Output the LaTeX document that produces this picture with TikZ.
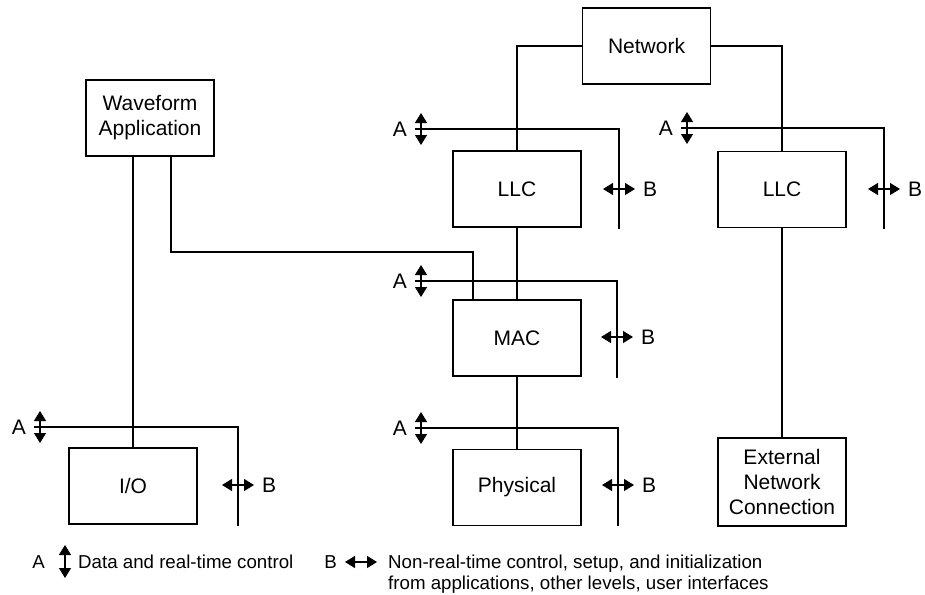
\documentclass[tikz,border=0pt]{standalone}
\usepackage{fontspec}
\setmainfont{Liberation Sans}
\usetikzlibrary{arrows.meta}

% A control port: the "A" double arrow on a bracket line that runs over the
% block and down its right side, and the "B" double arrow across that side.
% #1 name, #2 x of the A arrow, #3 y of the bracket, #4 x of the right side,
% #5 y where the side ends, #6 y of the B arrow
\newcommand\portset[6]{%
  \coordinate (#1-a) at (#2,#3);
  \coordinate (#1-c) at (#4,#3);
  \coordinate (#1-e) at (#4,#5);
  \coordinate (#1-b) at (#4,#6);
  \draw[wire] ([xshift=-6pt]#1-a) -- (#1-c) -- (#1-e);
  \draw[dbl] ([yshift=16pt]#1-a) -- ([yshift=-16pt]#1-a);
  \node[tag, anchor=east] (#1-A) at ([xshift=-14pt]#1-a) {A};
  \draw[dbl] ([xshift=-16pt]#1-b) -- ([xshift=16pt]#1-b);
  \node[tag, anchor=west] (#1-B) at ([xshift=24pt]#1-b) {B};
}

\begin{document}
\begin{tikzpicture}[x=1pt, y=-1pt,
  block/.style={draw, line width=1.2pt, minimum width=128pt, minimum height=76pt,
    inner sep=0pt, align=center, font=\fontsize{21}{25}\selectfont},
  wire/.style={line width=1.2pt},
  tag/.style={inner sep=0pt, font=\fontsize{21}{25}\selectfont},
  dbl/.style={line width=1.2pt,
    {Triangle[width=12pt,length=10pt]}-{Triangle[width=12pt,length=10pt]}},
  legend/.style={inner sep=0pt, align=left, font=\fontsize{18.7}{21}\selectfont},
]
\useasboundingbox (0,0) rectangle (925,594);

% blocks
\node[block] (net)  at (646.5,46)  {Network};
\node[block] (wave) at (150,118)   {Waveform\\Application};
\node[block] (llc1) at (517,189)   {LLC};
\node[block] (llc2) at (782,189.5) {LLC};
\node[block] (mac)  at (517,338)   {MAC};
\node[block] (phy)  at (517,487.5) {Physical};
\node[block] (io)   at (133,486)   {I/O};
\node[block, minimum height=88pt] (ext) at (782,482) {External\\Network\\Connection};

% data paths
\draw[wire] (net.west) -| (llc1.north);
\draw[wire] (net.east) -| (llc2.north);
\draw[wire] (llc1.south) -- (mac.north);
\draw[wire] (mac.south) -- (phy.north);
\draw[wire] (llc2.south) -- (ext.north);
\draw[wire] (io.north |- wave.south) -- (io.north);
\coordinate (wj) at (171,252);
\coordinate (mj) at (473,0);
\draw[wire] (wave.south -| wj) -- (wj) -| (mac.north -| mj);

% control ports
\portset{pl1}{421}{129}{619}{229}{189}
\portset{pl2}{687}{128}{884}{229}{189}
\portset{pmac}{421}{281}{617}{378}{337}
\portset{pphy}{421}{428}{618}{526}{485}
\portset{pio}{40}{427}{238}{526}{485}

% key
\coordinate (ka) at (65,561.5);
\draw[dbl] ([yshift=16.5pt]ka) -- ([yshift=-16.5pt]ka);
\node[legend, anchor=east] (kA) at (45,562) {A};
\node[legend, anchor=west] (kAt) at (78,562) {Data and real-time control};
\coordinate (kb) at (361,562);
\draw[dbl] ([xshift=-16pt]kb) -- ([xshift=16pt]kb);
\node[legend, anchor=east] (kB) at (337,562) {B};
\node[legend, anchor=north west] (kBt) at (388,555)
  {Non-real-time control, setup, and initialization\\from applications, other levels, user interfaces};
\end{tikzpicture}
\end{document}
